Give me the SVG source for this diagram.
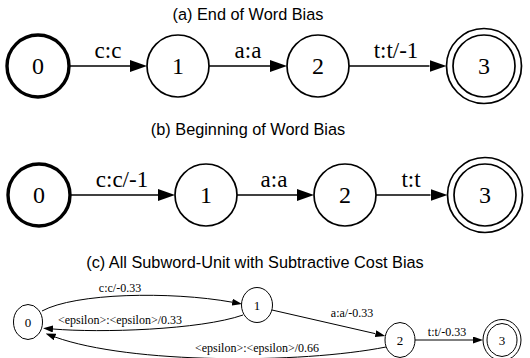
<svg xmlns="http://www.w3.org/2000/svg" width="530" height="358" viewBox="0 0 530 358">
<defs>
<marker id="ab" markerUnits="userSpaceOnUse" markerWidth="17" markerHeight="12" refX="0" refY="6" orient="auto"><path d="M0,0 L17,6 L0,12 z" fill="#000"/></marker>
<marker id="as" markerUnits="userSpaceOnUse" markerWidth="10" markerHeight="7" refX="0" refY="3.5" orient="auto"><path d="M0,0 L10,3.5 L0,7 z" fill="#000"/></marker>
</defs>
<style>
.t{font-family:"Liberation Sans",Arial,sans-serif;font-size:16.3px;fill:#000;text-anchor:middle}
.n{font-family:"Liberation Serif","Times New Roman",serif;font-size:24px;fill:#000;text-anchor:middle}
.l{font-family:"Liberation Serif","Times New Roman",serif;font-size:23px;fill:#000;text-anchor:middle}
.ns{font-family:"Liberation Serif","Times New Roman",serif;font-size:13px;fill:#000;text-anchor:middle}
.ls{font-family:"Liberation Serif","Times New Roman",serif;font-size:12px;fill:#000;text-anchor:middle}
.c{fill:#fff;stroke:#000;stroke-width:1.7}
.cb{fill:#fff;stroke:#000;stroke-width:3.4}
.cs{fill:#fff;stroke:#000;stroke-width:1}
.e{fill:none;stroke:#000;stroke-width:1.7;marker-end:url(#ab)}
.es{fill:none;stroke:#000;stroke-width:1;marker-end:url(#as)}
</style>
<rect width="530" height="358" fill="#fff"/>
<text class="t" x="248" y="20">(a) End of Word Bias</text>
<text class="t" x="248" y="135">(b) Beginning of Word Bias</text>
<text class="t" x="255" y="268">(c) All Subword-Unit with Subtractive Cost Bias</text>

<g id="connectors">
<line class="e" x1="69" y1="66" x2="130" y2="66"/>
<line class="e" x1="209" y1="66" x2="270" y2="66"/>
<line class="e" x1="349" y1="66" x2="429.5" y2="66"/>
<text class="l" x="108" y="58">c:c</text>
<text class="l" x="248" y="58">a:a</text>
<text class="l" x="396" y="58">t:t/-1</text>

<line class="e" x1="70" y1="195" x2="158" y2="195"/>
<line class="e" x1="237" y1="195" x2="297" y2="195"/>
<line class="e" x1="376" y1="195" x2="430.5" y2="195"/>
<text class="l" x="122" y="187">c:c/-1</text>
<text class="l" x="274" y="187">a:a</text>
<text class="l" x="411" y="187">t:t</text>

<path class="es" d="M42,311 C75,293 170,291 232.2,302.2"/>
<path class="es" d="M243,315 C200,330 100,333 53,329"/>
<path class="es" d="M386,347 C300,364 130,364 55,337"/>
<path class="es" d="M272,310 L375.5,333.7"/>
<line class="es" x1="415" y1="340" x2="473" y2="340"/>
<text class="ls" x="120" y="292">c:c/-0.33</text>
<text class="ls" x="120" y="324">&lt;epsilon&gt;:&lt;epsilon&gt;/0.33</text>
<text class="ls" x="352" y="317">a:a/-0.33</text>
<text class="ls" x="257" y="352">&lt;epsilon&gt;:&lt;epsilon&gt;/0.66</text>
<text class="ls" x="447" y="336">t:t/-0.33</text>
</g>

<g id="a0"><circle class="cb" cx="38" cy="66" r="31"/><text class="n" x="38" y="74">0</text></g>
<g id="a1"><circle class="c" cx="178" cy="66" r="31"/><text class="n" x="178" y="74">1</text></g>
<g id="a2"><circle class="c" cx="318" cy="66" r="31"/><text class="n" x="318" y="74">2</text></g>
<g id="a3"><circle class="c" cx="484" cy="66" r="37.5"/><circle class="c" cx="484" cy="66" r="31"/><text class="n" x="484" y="74">3</text></g>

<g id="b0"><circle class="cb" cx="39" cy="195" r="31"/><text class="n" x="39" y="203">0</text></g>
<g id="b1"><circle class="c" cx="206" cy="195" r="31"/><text class="n" x="206" y="203">1</text></g>
<g id="b2"><circle class="c" cx="345" cy="195" r="31"/><text class="n" x="345" y="203">2</text></g>
<g id="b3"><circle class="c" cx="485" cy="195" r="37.5"/><circle class="c" cx="485" cy="195" r="31"/><text class="n" x="485" y="203">3</text></g>

<g id="c0"><ellipse class="cs" cx="28" cy="322" rx="14.5" ry="17.5" stroke-width="1.8"/><text class="ns" x="28" y="326.5">0</text></g>
<g id="c1"><ellipse class="cs" cx="257" cy="305" rx="15.5" ry="17.5"/><text class="ns" x="257" y="309.5">1</text></g>
<g id="c2"><ellipse class="cs" cx="400" cy="340" rx="15" ry="17.5"/><text class="ns" x="400" y="344.5">2</text></g>
<g id="c3"><ellipse class="cs" cx="502" cy="340" rx="19" ry="20.5"/><ellipse class="cs" cx="502" cy="340" rx="15" ry="16.5"/><text class="ns" x="502" y="344.5">3</text></g>
</svg>
